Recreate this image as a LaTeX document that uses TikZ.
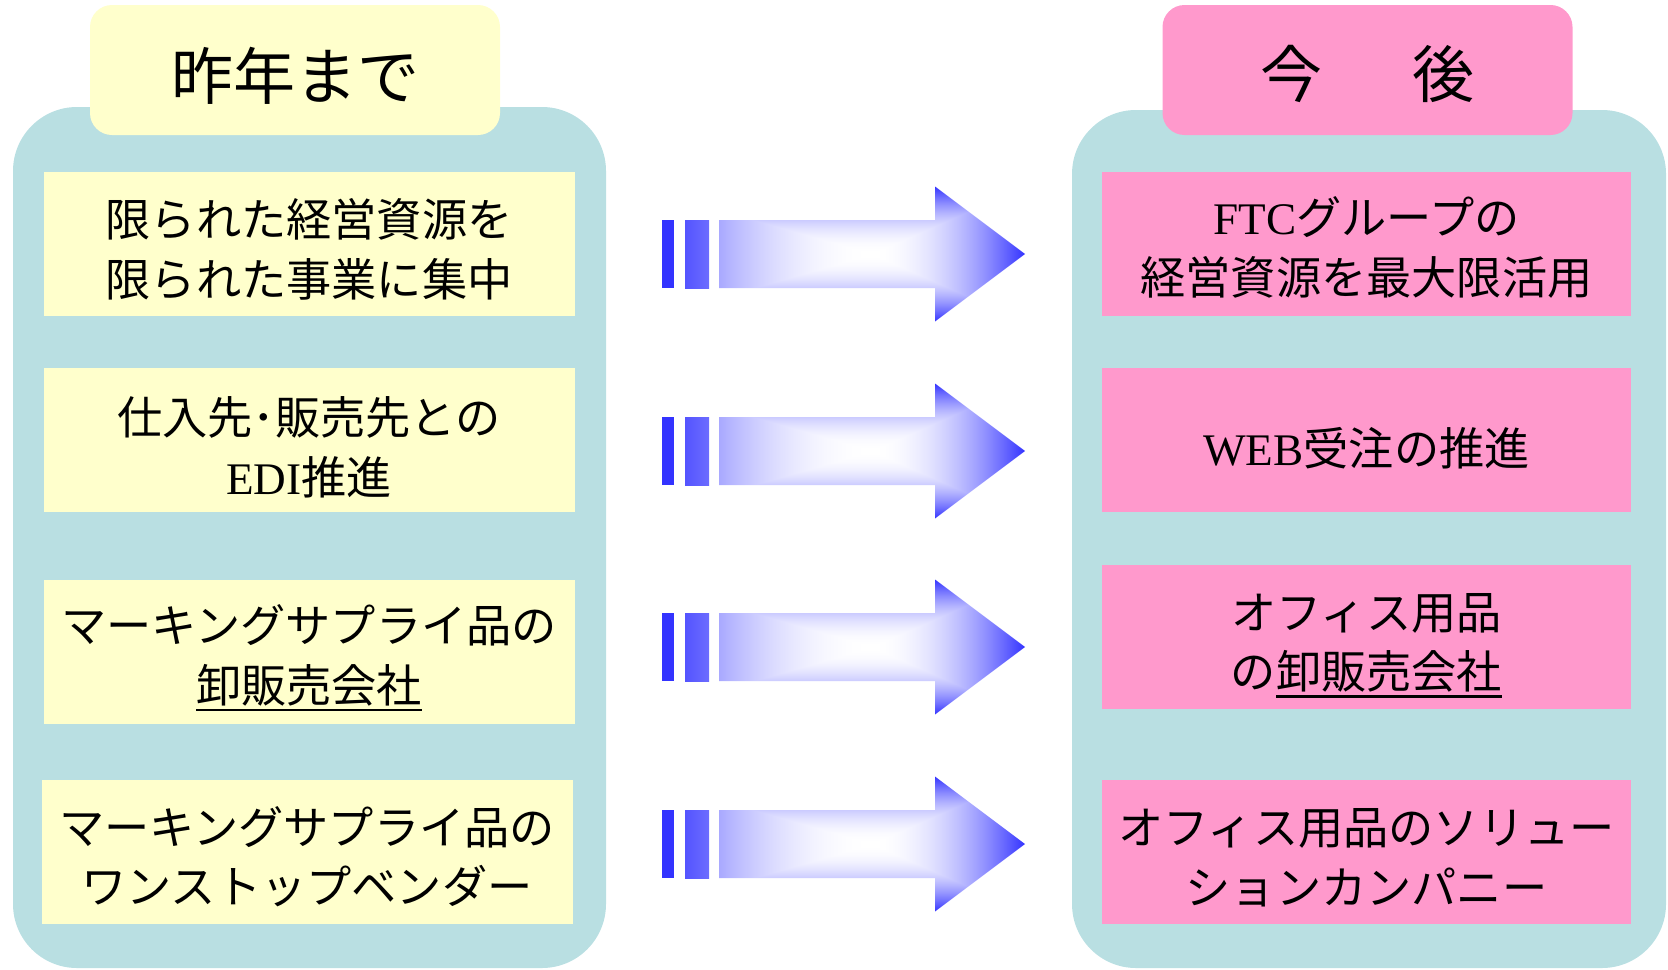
\documentclass[tikz,border=0pt]{standalone}
\usepackage{fontspec}
\setmainfont{Liberation Serif}
\newfontfamily\jp{Noto Sans CJK JP}
\definecolor{panel}{RGB}{185,223,226}
\definecolor{ylw}{RGB}{255,255,204}
\definecolor{pnk}{RGB}{255,153,204}
\definecolor{abl}{RGB}{51,51,255}
\definecolor{abl2}{RGB}{84,84,255}
\definecolor{abl3}{RGB}{108,108,255}
\pgfdeclarefunctionalshading{arrowshade}{\pgfpoint{-50bp}{-50bp}}{\pgfpoint{50bp}{50bp}}{}{
  abs 25 div
  exch dup 0 lt {neg 25 div 0.65 mul} {25 div} ifelse
  2 copy lt {exch} if pop
  dup 1 gt {pop 1} if
  dup mul 0.8 mul 1 exch sub dup 1
}
\newsavebox\ulbox
\newcommand\ulj[1]{\sbox\ulbox{#1}\rlap{\rule[-4.5pt]{\wd\ulbox}{1.3pt}}\usebox\ulbox}
\newcommand\lat[1]{{\rmfamily #1}}
\newcommand\bodyfont{\jp\fontsize{22.6pt}{29.8pt}\selectfont}
\newcommand\titlefont{\jp\fontsize{31pt}{36pt}\selectfont}
\newcommand\fatarrow[2]{%
  \coordinate (#1) at (872,#2);
  \fill[abl] (662,#2-34) rectangle (674,#2+34);
  \shade[left color=abl2, right color=abl3] (685,#2-34) rectangle (709,#2+34);
  \shade[shading=arrowshade] (719,#2-34) -- (935,#2-34) -- (935,#2-67.5) -- (1025,#2) -- (935,#2+67.5) -- (935,#2+34) -- (719,#2+34) -- cycle;
}
\tikzset{
  panelbox/.style={fill=panel, rounded corners=32pt, inner sep=0pt},
  tabbox/.style={rounded corners=11pt, inner sep=0pt, minimum width=205pt, minimum height=65pt},
  titletext/.style={inner sep=0pt, font=\titlefont},
  lbox/.style={fill=ylw, inner sep=0pt, minimum width=265.5pt, minimum height=72pt},
  rbox/.style={fill=pnk, inner sep=0pt, minimum width=264.5pt, minimum height=72pt},
  btext/.style={inner sep=0pt, align=center, font=\bodyfont}
}
\begin{document}
\begin{tikzpicture}[x=0.5pt, y=-0.5pt]
\useasboundingbox (0,0) rectangle (1668,969);
% panels
\node[panelbox, minimum width=296.5pt, minimum height=430.5pt] (lpanel) at (309.5,537.5) {};
\node[panelbox, minimum width=297pt, minimum height=429pt] (rpanel) at (1369,539) {};
% titles
\node[tabbox, fill=ylw] (ltitle) at (295,70) {};
\node[tabbox, fill=pnk] (rtitle) at (1367.5,70) {};
\node[titletext] (ltitlet) at ([yshift=-3pt]ltitle.center) {昨年まで};
\node[titletext] (rtitlet) at ([yshift=-2pt]rtitle.center) {今\hspace{45pt}後};
% left boxes
\node[lbox] (l1) at (309,244) {};
\node[lbox] (l2) at (309,440) {};
\node[lbox] (l3) at (309,651.5) {};
\node[lbox] (l4) at (307,851.5) {};
\node[btext] (l1t) at ([yshift=-2.8pt]l1.center) {限られた経営資源を\\限られた事業に集中};
\node[btext] (l2t) at ([yshift=-3.8pt]l2.center) {仕入先･販売先との\\\lat{EDI}推進};
\node[btext] (l3t) at ([yshift=-3.2pt]l3.center) {マーキングサプライ品の\\\ulj{卸販売会社}};
\node[btext] (l4t) at ([yshift=-2.6pt]l4.center) {マーキングサプライ品の\\ワンストップベンダー};
% right boxes
\node[rbox] (r1) at (1366.5,244) {};
\node[rbox] (r2) at (1366.5,440) {};
\node[rbox] (r3) at (1366.5,636.5) {};
\node[rbox] (r4) at (1366.5,851.5) {};
\node[btext] (r1t) at ([yshift=-1.8pt]r1.center) {\lat{FTC}グループの\\経営資源を最大限活用};
\node[btext] (r2t) at ([yshift=-4.2pt]r2.center) {\lat{WEB}受注の推進};
\node[btext] (r3t) at ([yshift=-4.5pt]r3.center) {オフィス用品\\の\ulj{卸販売会社}};
\node[btext] (r4t) at ([yshift=-3.2pt]r4.center) {オフィス用品のソリュー\\ションカンパニー};
% arrows
\fatarrow{a1}{254}
\fatarrow{a2}{451}
\fatarrow{a3}{647}
\fatarrow{a4}{844}
\end{tikzpicture}
\end{document}
